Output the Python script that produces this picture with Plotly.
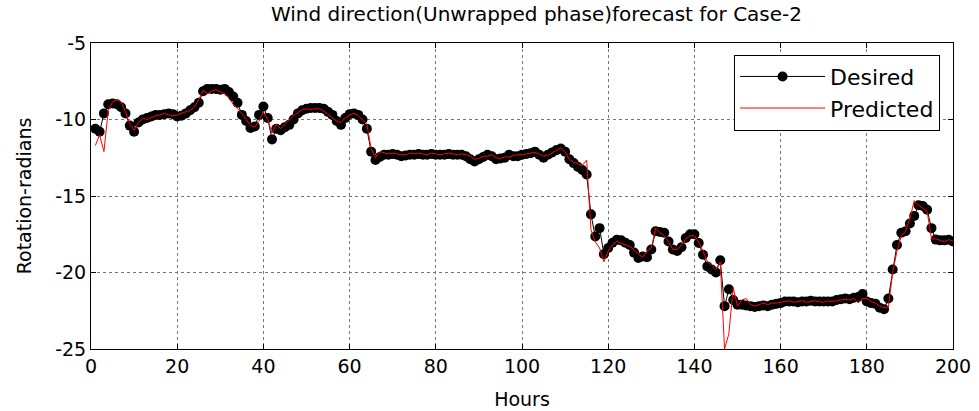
import plotly.graph_objects as go

hours = list(range(1, 201))

desired = [
    -10.6, -10.8, -9.6, -9.0, -8.95, -9.0, -9.2, -9.6, -10.4, -10.8,
    -10.2, -10.0, -9.9, -9.8, -9.7, -9.7, -9.65, -9.6, -9.65, -9.8,
    -9.75, -9.6, -9.4, -9.2, -8.9, -8.15, -8.0, -8.0, -8.0, -8.05,
    -8.0, -8.2, -8.5, -8.9, -9.7, -10.1, -10.55, -10.45, -9.7, -9.15,
    -9.9, -11.3, -10.6, -10.7, -10.5, -10.35, -10.0, -9.6, -9.4, -9.3,
    -9.25, -9.25, -9.25, -9.3, -9.5, -9.7, -10.1, -10.35, -9.9, -9.65,
    -9.6, -9.7, -10.0, -10.6, -12.1, -12.65, -12.45, -12.3, -12.3, -12.25,
    -12.3, -12.4, -12.35, -12.3, -12.3, -12.25, -12.3, -12.3, -12.25, -12.3,
    -12.3, -12.3, -12.25, -12.3, -12.3, -12.3, -12.4, -12.6, -12.75, -12.6,
    -12.45, -12.3, -12.4, -12.6, -12.55, -12.5, -12.3, -12.4, -12.4, -12.3,
    -12.25, -12.2, -12.1, -12.3, -12.5, -12.3, -12.15, -12.0, -11.9, -12.1,
    -12.6, -12.85, -13.1, -13.3, -13.6, -16.2, -17.65, -17.1, -18.8, -18.4,
    -18.05, -17.86, -17.9, -18.05, -18.2, -18.7, -19.05, -18.95, -19.0, -18.5,
    -17.3, -17.35, -17.4, -17.97, -18.5, -18.6, -18.35, -17.75, -17.5, -17.5,
    -18.07, -18.84, -19.6, -19.8, -20.0, -19.2, -22.2, -21.1, -21.8, -22.1,
    -22.1, -22.15, -22.2, -22.25, -22.2, -22.15, -22.2, -22.1, -22.05, -22.0,
    -21.9, -21.9, -21.9, -21.95, -21.9, -21.9, -21.85, -21.9, -21.9, -21.9,
    -21.9, -21.9, -21.8, -21.75, -21.7, -21.75, -21.65, -21.6, -21.4, -21.9,
    -22.0, -22.05, -22.3, -22.4, -21.7, -19.8, -18.2, -17.4, -17.3, -16.8,
    -16.3, -15.6, -15.65, -15.9, -17.1, -17.85, -17.9, -17.9, -17.86, -17.97,
]

predicted = [
    -11.7, -11.0, -12.1, -9.4, -8.85, -8.7, -8.85, -9.5, -10.3, -10.7,
    -10.2, -9.9, -10.0, -9.85, -9.75, -9.7, -9.6, -9.7, -9.75, -9.7,
    -9.6, -9.5, -9.4, -9.2, -8.7, -8.1, -8.3, -8.15, -8.05, -8.2,
    -8.3, -8.6, -9.0, -9.3, -9.6, -10.0, -10.4, -10.5, -10.1, -9.5,
    -10.0, -10.9, -10.3, -10.6, -10.3, -10.0, -9.75, -9.55, -9.35, -9.3,
    -9.35, -9.3, -9.3, -9.45, -9.65, -9.85, -10.1, -10.2, -9.9, -9.7,
    -9.6, -9.75, -10.0, -10.3, -11.9, -12.5, -12.1, -12.2, -12.25, -12.2,
    -12.25, -12.3, -12.3, -12.2, -12.25, -12.2, -12.25, -12.3, -12.2, -12.25,
    -12.3, -12.25, -12.2, -12.25, -12.3, -12.25, -12.3, -12.4, -12.6, -12.55,
    -12.4, -12.4, -12.3, -12.5, -12.55, -12.45, -12.45, -12.35, -12.3, -12.3,
    -12.25, -12.2, -12.15, -12.25, -12.4, -12.35, -12.2, -12.0, -11.85, -12.1,
    -12.6, -12.8, -12.9, -13.0, -12.65, -17.2, -18.0, -18.4, -19.3, -18.6,
    -18.2, -17.95, -18.1, -18.2, -18.3, -18.5, -18.8, -19.0, -18.6, -18.4,
    -17.1, -17.4, -17.6, -18.0, -18.5, -18.5, -18.2, -17.8, -17.6, -17.6,
    -18.0, -18.6, -19.3, -19.5, -19.8, -19.3, -25.0, -24.0, -21.0, -22.2,
    -21.8, -21.7, -22.1, -22.2, -22.1, -22.0, -22.1, -22.0, -22.0, -21.95,
    -21.9, -21.85, -21.95, -21.9, -21.85, -21.95, -21.9, -21.85, -21.9, -21.95,
    -21.85, -21.9, -21.85, -21.8, -21.75, -21.8, -21.7, -22.0, -21.7, -21.7,
    -21.9, -22.0, -22.2, -22.3, -22.3, -20.0, -18.6, -17.6, -17.3, -16.5,
    -15.3, -15.6, -15.8, -16.0, -17.8, -17.8, -17.9, -18.0, -17.85, -17.95,
]

x_ticks = [0, 20, 40, 60, 80, 100, 120, 140, 160, 180, 200]
y_ticks = [-25, -20, -15, -10, -5]
y_tick_text = ["-25", "-20", "-15", "-10", "-5"]

FONT = "DejaVu Sans"

fig = go.Figure()
fig.add_trace(go.Scatter(
    x=hours, y=desired, name="Desired", mode="lines+markers",
    line=dict(color="black", width=1),
    marker=dict(color="black", size=10, line=dict(width=0)),
))
fig.add_trace(go.Scatter(
    x=hours, y=predicted, name="Predicted", mode="lines",
    line=dict(color="red", width=1),
))

axis_common = dict(
    showline=True, linecolor="black", linewidth=1, mirror="ticks",
    ticks="inside", ticklen=5, tickcolor="black",
    showgrid=True, gridcolor="#777777", griddash="dot", gridwidth=1,
    zeroline=False,
    tickfont=dict(family=FONT, size=19, color="black"),
)

fig.update_layout(
    width=979, height=411,
    margin=dict(l=91, r=26, t=43, b=62),
    paper_bgcolor="white", plot_bgcolor="white",
    font=dict(family=FONT, color="black"),
    title=dict(text="Wind direction(Unwrapped phase)forecast for Case-2",
               x=0.548, xanchor="center", y=0.965, yanchor="middle",
               font=dict(family=FONT, size=20, color="black")),
    xaxis=dict(range=[0, 200], tickvals=x_ticks, automargin=False,
               title=dict(text="Hours", font=dict(family=FONT, size=19), standoff=16),
               **axis_common),
    yaxis=dict(range=[-25, -5], tickvals=y_ticks, ticktext=y_tick_text, automargin=True,
               title=dict(text="Rotation-radians", font=dict(family=FONT, size=19), standoff=18),
               **axis_common),
    legend=dict(x=0.985, xanchor="right", y=0.962, yanchor="top",
                bgcolor="white", bordercolor="black", borderwidth=1,
                font=dict(family=FONT, size=22, color="black"),
                itemwidth=85, tracegroupgap=2),
    showlegend=True,
)

fig.write_html("out.html")
